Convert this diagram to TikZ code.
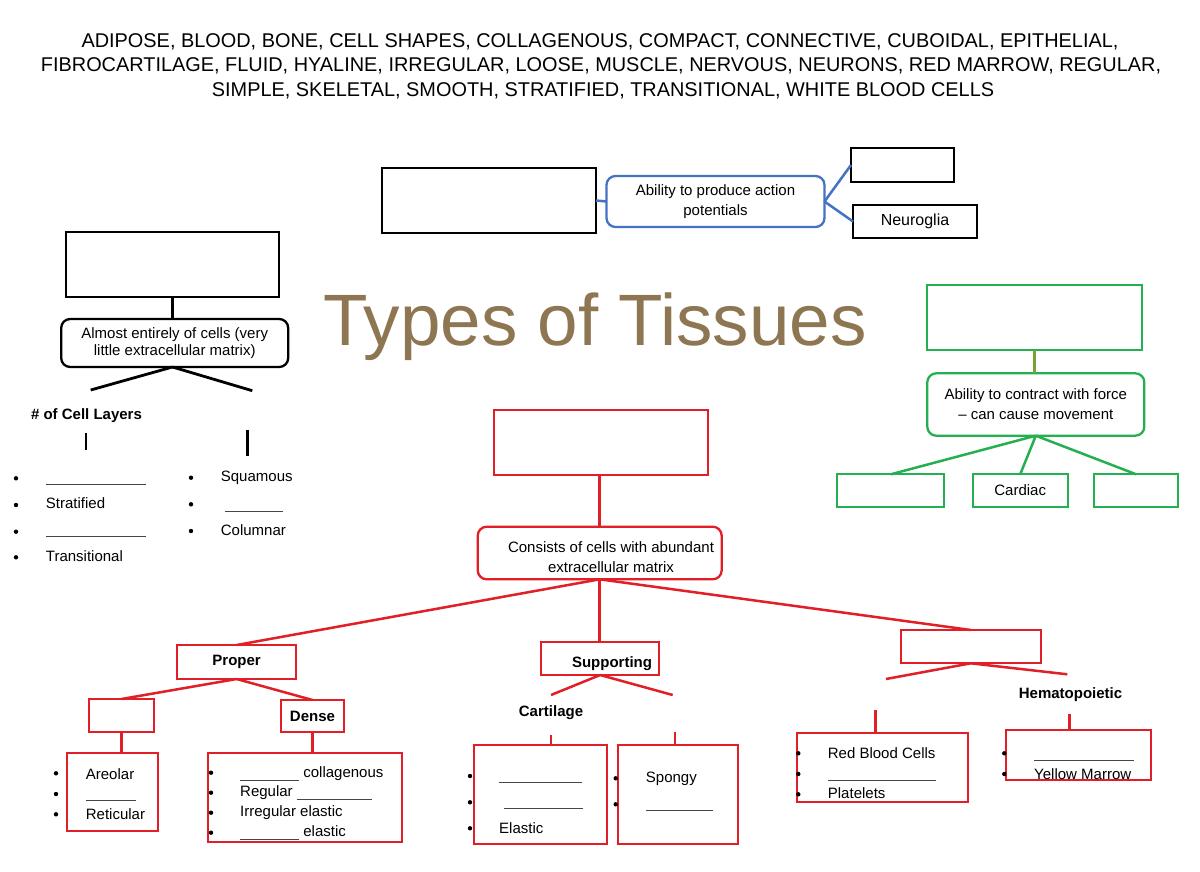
\documentclass[tikz,border=0pt]{standalone}
\usepackage{fontspec}
\setmainfont{Liberation Sans}
\definecolor{tred}{RGB}{226,30,38}
\definecolor{tblue}{RGB}{68,114,196}
\definecolor{tgreen}{RGB}{36,176,80}
\definecolor{tolive}{RGB}{120,165,50}
\definecolor{ttitle}{RGB}{141,118,81}
\definecolor{tgray}{RGB}{70,70,70}
\newcommand{\blnk}[1]{\textcolor{tgray}{\rule[-3pt]{#1}{0.9pt}}}
\begin{document}
\begin{tikzpicture}[x=1pt,y=-1pt,
  sqbox/.style={draw, line width=2.3pt, inner sep=0pt, outer sep=0pt, anchor=north west, font=\fontsize{15}{18}\selectfont},
  rdbox/.style={draw, line width=2.3pt, rounded corners=9pt, inner sep=0pt, outer sep=0pt, align=center, font=\fontsize{15}{20}\selectfont},
  bline/.style={draw=black, line width=2.8pt},
  rline/.style={draw=tred, line width=2.5pt},
  gline/.style={draw=tgreen, line width=2.5pt},
  uline/.style={draw=tblue, line width=2.5pt},
  dotn/.style={circle, fill=black, inner sep=0pt, minimum size=4.4pt},
  itx/.style={anchor=west, inner sep=0pt, font=\fontsize{15}{18}\selectfont, text height=11pt, text depth=3pt},
  bld/.style={inner sep=0pt, font=\fontsize{15}{18}\selectfont\bfseries, text height=11pt, text depth=3pt},
  wl/.style={anchor=base, inner sep=0pt, font=\fontsize{19.9}{23}\selectfont}
]
\fill[white] (0,0) rectangle (1200,871);
\useasboundingbox (0,0) rectangle (1200,871);

% word list
\node[wl] (w1) at (600,47) {ADIPOSE, BLOOD, BONE, CELL SHAPES, COLLAGENOUS, COMPACT, CONNECTIVE, CUBOIDAL, EPITHELIAL,};
\node[wl] (w2) at (601,71.5) {FIBROCARTILAGE, FLUID, HYALINE, IRREGULAR, LOOSE, MUSCLE, NERVOUS, NEURONS, RED MARROW, REGULAR,};
\node[wl] (w3) at (603,96) {SIMPLE, SKELETAL, SMOOTH, STRATIFIED, TRANSITIONAL, WHITE BLOOD CELLS};

% title
\node[anchor=base west, inner sep=0pt, text=ttitle, font=\fontsize{72.8}{80}\selectfont] (title) at (323,345) {Types of Tissues};

% ---------- nervous (blue) ----------
\node[sqbox, minimum width=214pt, minimum height=65pt] (nvTop) at (382,168) {};
\node[rdbox, draw=tblue, minimum width=218pt, minimum height=51pt] (nvRound) at (715.5,201.5) {Ability to produce action\\potentials};
\node[sqbox, minimum width=103pt, minimum height=34pt] (nvA) at (851,148) {};
\node[sqbox, minimum width=124pt, minimum height=33pt, font=\fontsize{16}{19}\selectfont] (nvB) at (853,205) {Neuroglia};
\draw[uline] (nvTop.east) -- (nvRound.west);
\draw[uline] (nvRound.east) -- (nvA.west);
\draw[uline] (nvRound.east) -- (nvB.west);

% ---------- epithelial (black) ----------
\node[sqbox, minimum width=213.6pt, minimum height=65pt] (epTop) at (65.7,231.7) {};
\node[rdbox, minimum width=227pt, minimum height=48pt, font=\fontsize{15}{17.7}\selectfont] (epRound) at (174.7,343) {Almost entirely of cells (very\\little extracellular matrix)};
\draw[bline] (epTop.south) -- (epTop.south |- epRound.north);
\coordinate (epL) at (90.7,390);
\coordinate (epR) at (252.3,390.7);
\coordinate (epJ) at (172.5,367);
\draw[bline] (epJ) -- (epL);
\draw[bline] (epJ) -- (epR);
\node[bld] (layers) at (86.5,415) {\# of Cell Layers};
\coordinate (tk1a) at (86,432.7); \coordinate (tk1b) at (86,450);
\coordinate (tk2a) at (247.7,430); \coordinate (tk2b) at (247.7,456);
\draw[bline] (tk1a) -- (tk1b);
\draw[bline] (tk2a) -- (tk2b);
% left list
\node[dotn] (ld1) at (16,478.3) {};
\node[dotn] (ld2) at (16,505) {};
\node[dotn] (ld3) at (16,531.7) {};
\node[dotn] (ld4) at (16,557.3) {};
\node[itx] (lt1) at (45.7,478) {\blnk{100pt}};
\node[itx] (lt2) at (45.7,504.3) {Stratified};
\node[itx] (lt3) at (45.7,529.7) {\blnk{100pt}};
\node[itx] (lt4) at (45.7,557.3) {Transitional};
% right list
\node[dotn] (rd1) at (191,477.7) {};
\node[dotn] (rd2) at (191,504.3) {};
\node[dotn] (rd3) at (191,531) {};
\node[itx] (rt1) at (220.7,477.7) {Squamous};
\node[itx] (rt2) at (225,504.7) {\blnk{58pt}};
\node[itx] (rt3) at (220.7,531) {Columnar};

% ---------- muscle (green) ----------
\node[sqbox, draw=tgreen, minimum width=214.4pt, minimum height=65.3pt] (muTop) at (927.3,285) {};
\node[rdbox, draw=tgreen, minimum width=217pt, minimum height=62.4pt] (muRound) at (1035.8,404.5) {Ability to contract with force\\– can cause movement};
\draw[line width=2.5pt, tolive] (muTop.south) -- (muTop.south |- muRound.north);
\node[sqbox, draw=tgreen, minimum width=107pt, minimum height=32.4pt] (muA) at (837.3,474.3) {};
\node[sqbox, draw=tgreen, minimum width=95pt, minimum height=32.4pt] (muB) at (972.7,474.3) {Cardiac};
\node[sqbox, draw=tgreen, minimum width=84.3pt, minimum height=32.4pt] (muC) at (1094,474.3) {};
\draw[gline] (muRound.south) -- (muA.north);
\draw[gline] (muRound.south) -- (muB.north);
\draw[gline] (muRound.south) -- (muC.north);

% ---------- connective (red) ----------
\node[sqbox, draw=tred, minimum width=213.4pt, minimum height=65pt] (ctTop) at (494.3,410) {};
\node[rdbox, draw=tred, minimum width=244pt, minimum height=52.6pt] (ctRound) at (599.7,553) {};
\node[align=center, inner sep=0pt, font=\fontsize{15}{20}\selectfont] (ctText) at (611,556.7) {Consists of cells with abundant\\extracellular matrix};
\draw[rline] (ctRound.north) -- (ctRound.north |- ctTop.south);

\node[sqbox, draw=tred, minimum width=118.7pt, minimum height=34pt, font=\fontsize{15}{18}\selectfont\bfseries] (proper) at (177.3,645) {Proper};
\node[sqbox, draw=tred, minimum width=118.3pt, minimum height=33.3pt] (supp) at (541,641.7) {};
\node[bld] (suppText) at (612,663.3) {Supporting};
\node[sqbox, draw=tred, minimum width=140.3pt, minimum height=33.3pt] (fluid) at (900.7,630) {};
\draw[rline] (ctRound.south) -- (proper.north);
\draw[rline] (ctRound.south) -- (ctRound.south |- supp.north);
\draw[rline] (ctRound.south) -- (fluid.north);

% proper branch
\node[sqbox, draw=tred, minimum width=65pt, minimum height=33.3pt] (loose) at (89,699) {};
\node[sqbox, draw=tred, minimum width=63.6pt, minimum height=32.3pt, font=\fontsize{15}{18}\selectfont\bfseries] (dense) at (280.7,700) {Dense};
\draw[rline] (proper.south) -- (loose.north);
\draw[rline] (proper.south) -- (dense.north);
\node[sqbox, draw=tred, minimum width=91pt, minimum height=77.4pt] (looseList) at (67.3,753.3) {};
\node[sqbox, draw=tred, minimum width=194pt, minimum height=89pt] (denseList) at (207.7,753.3) {};
\draw[rline] (loose.south) -- (loose.south |- looseList.north);
\draw[rline] (dense.south) -- (dense.south |- denseList.north);
\node[dotn] (ad1) at (56,773.3) {};
\node[dotn] (ad2) at (56,794) {};
\node[dotn] (ad3) at (56,814.3) {};
\node[itx] (at1) at (85.7,775) {Areolar};
\node[itx] (at2) at (85.7,794) {\blnk{50pt}};
\node[itx] (at3) at (85.7,815) {Reticular};
\node[dotn] (dd1) at (211,772.7) {};
\node[dotn] (dd2) at (211,792.7) {};
\node[dotn] (dd3) at (211,812.7) {};
\node[dotn] (dd4) at (211,832.7) {};
\node[itx] (dt1) at (240,773.7) {\blnk{59pt} collagenous};
\node[itx] (dt2) at (240,792.7) {Regular \blnk{75pt}};
\node[itx] (dt3) at (240,812.7) {Irregular elastic};
\node[itx] (dt4) at (240,832.7) {\blnk{59pt} elastic};

% supporting branch
\coordinate (spL) at (551,695);
\coordinate (spR) at (672.7,695);
\draw[rline] (supp.south) -- (spL);
\draw[rline] (supp.south) -- (spR);
\node[bld] (cartLab) at (551,712.7) {Cartilage};
\node[sqbox, draw=tred, minimum width=132.7pt, minimum height=99pt] (cart) at (474,745) {};
\node[sqbox, draw=tred, minimum width=120.6pt, minimum height=99pt] (bone) at (617.7,745) {};
\coordinate (cartTk) at (551,735);
\coordinate (boneTk) at (675,732.3);
\draw[rline] (cartTk) -- (cartTk |- cart.north);
\draw[rline] (boneTk) -- (boneTk |- bone.north);
\node[dotn] (cd1) at (470,776) {};
\node[dotn] (cd2) at (470,802.3) {};
\node[dotn] (cd3) at (470,828.3) {};
\node[itx] (ct1) at (499,775.7) {\blnk{83pt}};
\node[itx] (ct2) at (503.3,802.3) {\blnk{79pt}};
\node[itx] (ct3) at (499,829.3) {Elastic};
\node[dotn] (bd1) at (615.7,778.3) {};
\node[dotn] (bd2) at (615.7,804.3) {};
\node[itx] (bt1) at (645.7,778.3) {Spongy};
\node[itx] (bt2) at (645.7,804) {\blnk{66.6pt}};

% fluid branch
\coordinate (flL) at (886,679);
\coordinate (flR) at (1067.3,674.3);
\draw[rline] (fluid.south) -- (flL);
\draw[rline] (fluid.south) -- (flR);
\node[bld] (hemLab) at (1070.5,694.3) {Hematopoietic};
\node[sqbox, draw=tred, minimum width=170.7pt, minimum height=68.7pt] (blood) at (797,733) {};
\node[sqbox, draw=tred, minimum width=145.3pt, minimum height=50pt] (marrow) at (1005.7,730) {};
\coordinate (blTk) at (875.7,710);
\coordinate (mrTk) at (1069.3,714);
\draw[rline] (blTk) -- (blTk |- blood.north);
\draw[rline] (mrTk) -- (mrTk |- marrow.north);
\node[dotn] (bld1) at (798.3,753.3) {};
\node[dotn] (bld2) at (798.3,774) {};
\node[dotn] (bld3) at (798.3,794.3) {};
\node[itx] (blt1) at (827.7,754.3) {Red Blood Cells};
\node[itx] (blt2) at (827.7,774) {\blnk{108pt}};
\node[itx] (blt3) at (827.7,794.3) {Platelets};
\node[dotn] (md1) at (1004.3,753.3) {};
\node[dotn] (md2) at (1004.3,774) {};
\node[itx] (mt1) at (1034,754) {\blnk{100pt}};
\node[itx] (mt2) at (1034,775) {Yellow Marrow};
\end{tikzpicture}
\end{document}
